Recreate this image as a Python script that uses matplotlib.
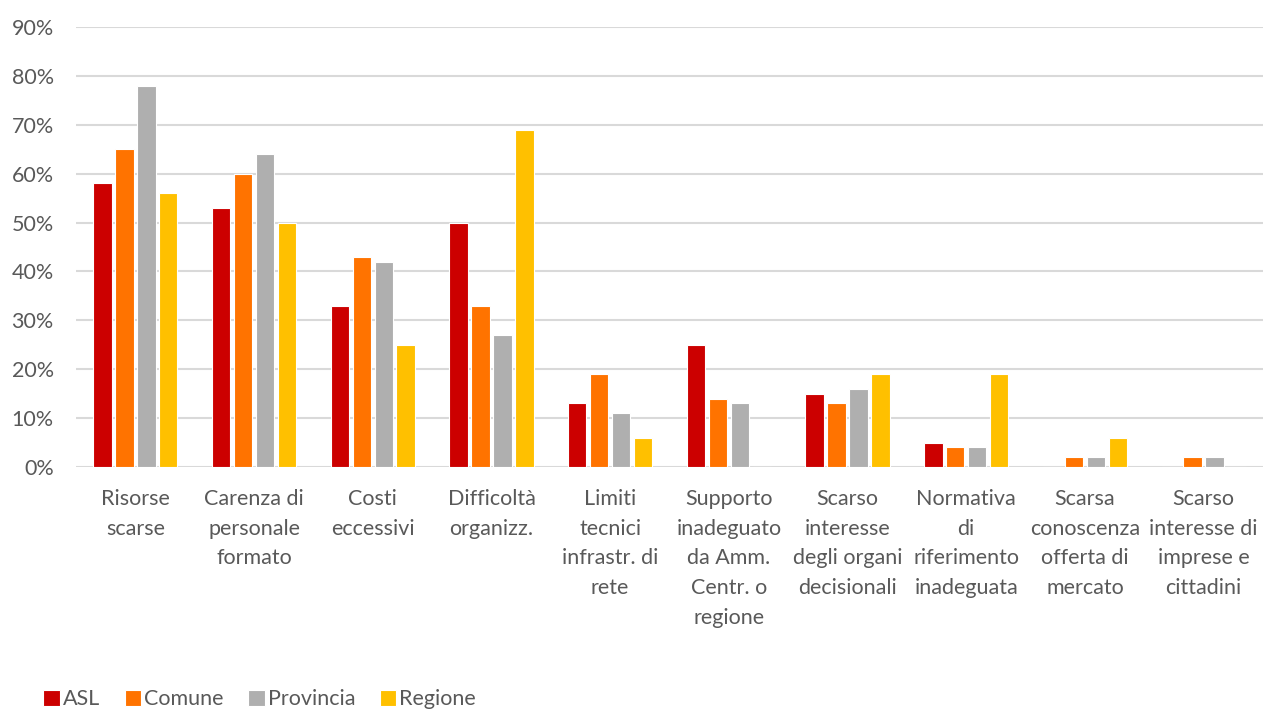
import matplotlib
matplotlib.use("Agg")
import matplotlib.pyplot as plt
import numpy as np
from matplotlib.ticker import PercentFormatter, MultipleLocator

categories = ["Risorse\nscarse", "Carenza di\npersonale\nformato", "Costi\neccessivi",
              "Difficoltà\norganizz.", "Limiti\ntecnici\ninfrastr. di\nrete",
              "Supporto\ninadeguato\nda Amm.\nCentr. o\nregione",
              "Scarso\ninteresse\ndegli organi\ndecisionali",
              "Normativa\ndi\nriferimento\ninadeguata",
              "Scarsa\nconoscenza\nofferta di\nmercato",
              "Scarso\ninteresse di\nimprese e\ncittadini"]
series_names = ["ASL", "Comune", "Provincia", "Regione"]
asl = [58, 53, 33, 50, 13, 25, 15, 5, 0, 0]
comune = [65, 60, 43, 33, 19, 14, 13, 4, 2, 2]
provincia = [78, 64, 42, 27, 11, 13, 16, 4, 2, 2]
regione = [56, 50, 25, 69, 6, 0, 19, 19, 6, 0]
colors = ["#CC0000", "#FF7300", "#AFAFAF", "#FFC000"]

plt.rcParams['font.family'] = ['Lato', 'DejaVu Sans']
text_color = "#595959"

fig = plt.figure(figsize=(12.64, 7.09), dpi=100)
ax = fig.add_axes([76/1264, 1-467/709, 1187/1264, (467-27)/709])

x = np.arange(len(categories))
step = 0.185
width = 0.155
for i, (vals, name, c) in enumerate(zip([asl, comune, provincia, regione], series_names, colors)):
    ax.bar(x + (i - 1.5) * step, np.array(vals) / 100, width, color=c, label=name,
           edgecolor="white", linewidth=0.8, zorder=3)

ax.set_xlim(-0.5, len(categories) - 0.5)
ax.set_ylim(0, 0.9)
ax.yaxis.set_major_locator(MultipleLocator(0.1))
ax.yaxis.set_major_formatter(PercentFormatter(1.0, decimals=0))
ax.grid(axis="y", color="#D9D9D9", linewidth=1.5, zorder=0)
for s in ax.spines.values():
    s.set_visible(False)
ax.tick_params(axis="both", length=0, colors=text_color, labelsize=15.5)
ax.tick_params(axis="y", pad=16)
ax.tick_params(axis="x", pad=16)
ax.set_xticks(x)
ax.set_xticklabels(categories, linespacing=1.6, va="top")

fig.legend(loc="lower left", bbox_to_anchor=(0.019, -0.028), ncol=4, frameon=False,
           handlelength=0.75, handleheight=0.75, handletextpad=0.15, columnspacing=1.15,
           fontsize=15.5, labelcolor=text_color)

fig.savefig("out.png", dpi=100)
